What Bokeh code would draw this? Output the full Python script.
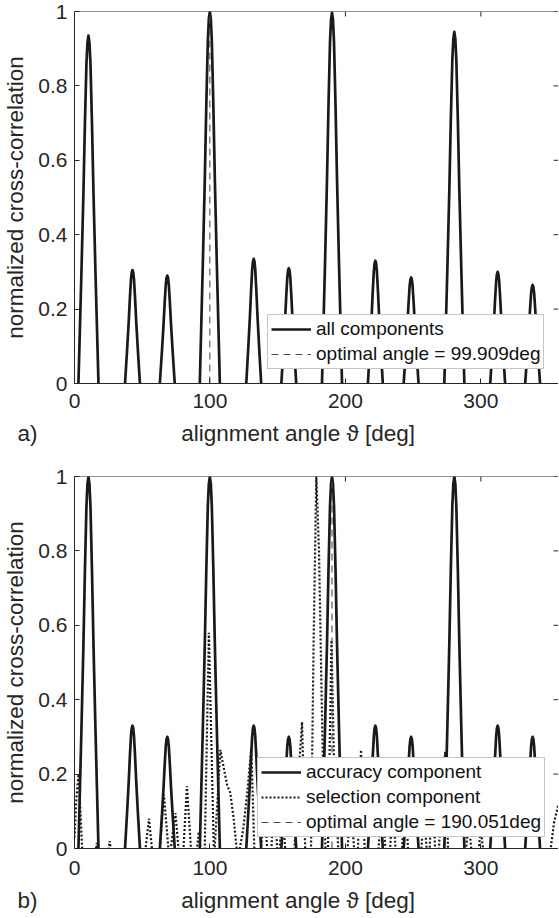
from bokeh.plotting import figure
from bokeh.models import (Range1d, FixedTicker, NumeralTickFormatter,
                          Legend, LegendItem, Title, Span)
from bokeh.layouts import column
from bokeh.embed import file_html
from bokeh.resources import INLINE

# ---------------- data ----------------
peak_theta = [10.3, 42.8, 68.5, 99.9, 132.3, 158.2, 190.1, 222.1, 248.5, 280.4, 312.4, 338.2]
all_peak_value = [0.935, 0.305, 0.29, 1.0, 0.335, 0.31, 0.997, 0.33, 0.285, 0.945, 0.30, 0.265]
acc_peak_value = [1.0, 0.33, 0.30, 1.0, 0.33, 0.30, 1.0, 0.33, 0.30, 1.0, 0.33, 0.30]
peak_halfwidth = [7.4, 5.5, 5.5, 7.4, 5.5, 5.5, 7.4, 5.5, 5.5, 7.4, 5.5, 5.5]
# shape of one correlation lobe: offset (fraction of half width) -> level (fraction of peak)
lobe_offset = [0.0, 0.1, 0.2, 0.35, 0.5, 0.7, 0.85, 1.0, 1.3]
lobe_level = [1.0, 0.98, 0.92, 0.75, 0.55, 0.32, 0.16, 0.0, -0.3]

sel_theta = [0, 1.5, 3.0, 4.5, 6.0,
             14.5, 16.5, 18.5,
             24, 26, 28,
             51.5, 55, 58,
             62.5, 66, 70, 74.5, 77.5,
             80, 83, 86.5,
             89.5, 91.8, 94,
             96, 99.2, 103, 107.7, 110, 112.7, 115, 117.5, 120.5, 124.5, 127.5, 130.5, 133,
             137, 140, 143,
             145, 147.5, 150,
             151, 153.5, 156,
             162, 165, 168, 170.5,
             174.5, 176.5, 178.5, 180.5, 183, 185.5,
             187, 189.7, 191.5, 193.5, 195,
             201, 204, 207,
             209, 211.5, 214.5,
             224, 227, 230,
             232.5, 235, 237.5,
             241.5, 244, 246.5,
             255.5, 258, 260.5,
             262, 264, 266.5,
             268.5, 271, 273.6, 276,
             288.5, 291, 293.5,
             297.5, 300, 302.5,
             350.5, 354, 357.3]
sel_value = [0.03, 0.14, 0.20, 0.09, -0.03,
             -0.03, 0.015, -0.03,
             -0.03, 0.02, -0.03,
             -0.03, 0.08, -0.03,
             -0.03, 0.145, -0.03, 0.095, -0.03,
             -0.03, 0.168, -0.03,
             -0.03, 0.045, -0.03,
             -0.03, 0.58, -0.03, 0.265, 0.22, 0.17, 0.15, 0.08, -0.03, 0.05, 0.15, 0.27, -0.03,
             -0.03, 0.10, -0.03,
             -0.03, 0.15, -0.03,
             -0.03, 0.12, -0.03,
             -0.03, 0.18, 0.34, -0.03,
             -0.03, 0.55, 1.0, 0.8, 0.3, -0.03,
             -0.03, 0.56, 0.24, 0.10, -0.03,
             -0.03, 0.12, -0.03,
             -0.03, 0.265, -0.03,
             -0.03, 0.15, -0.03,
             -0.03, 0.12, -0.03,
             -0.03, 0.18, -0.03,
             -0.03, 0.10, -0.03,
             -0.03, 0.20, -0.03,
             -0.03, 0.12, 0.26, -0.03,
             -0.03, 0.08, -0.03,
             -0.03, 0.05, -0.03,
             -0.03, 0.07, 0.12]

optimal_a = 99.909
optimal_b = 190.051
x_ticks = [0, 100, 200, 300]
y_ticks = [0, 0.2, 0.4, 0.6, 0.8, 1]
x_label = "alignment angle \u03d1 [deg]"
y_label = "normalized cross-correlation"
panel_tags = ["a)", "b)"]

# ---------------- styling / geometry ----------------
FONT = "Liberation Sans"
TXT = "#262626"
LINE = "#1a1a1a"
X_END = 357.3
FRAME_W, FRAME_H = 484, 372
TICK = 5  # px


def lobes(centers, heights, halfwidths):
    xs, ys = [], []
    for c, h, w in zip(centers, heights, halfwidths):
        for f, g in zip(reversed(lobe_offset), reversed(lobe_level)):
            xs.append(c - f * w)
            ys.append(h * g)
        for f, g in zip(lobe_offset[1:], lobe_level[1:]):
            xs.append(c + f * w)
            ys.append(h * g)
    return xs, ys


def panel(tag, border_top, border_bottom, tick_standoff, title_standoff):
    p = figure(frame_width=FRAME_W, frame_height=FRAME_H,
               x_range=Range1d(x_ticks[0], X_END), y_range=Range1d(y_ticks[0], y_ticks[-1]),
               output_backend="svg", toolbar_location=None,
               min_border_left=74, min_border_right=0,
               min_border_top=border_top, min_border_bottom=border_bottom)
    p.xgrid.visible = False
    p.ygrid.visible = False
    p.outline_line_color = None
    p.background_fill_color = "white"
    p.border_fill_color = "white"

    xa = p.xaxis[0]
    xa.ticker = FixedTicker(ticks=x_ticks)
    ya = p.yaxis[0]
    ya.ticker = FixedTicker(ticks=y_ticks)
    ya.formatter = NumeralTickFormatter(format="0.[0]")
    ya.axis_label = y_label
    ya.axis_label_text_font = FONT
    ya.axis_label_text_font_size = "22.5px"
    ya.axis_label_text_font_style = "normal"
    ya.axis_label_text_color = TXT
    ya.axis_label_standoff = 7
    xa.major_label_standoff = tick_standoff
    ya.major_label_standoff = 7
    for ax in (xa, ya):
        ax.major_tick_in = TICK
        ax.major_tick_out = 0
        ax.minor_tick_line_color = None
        ax.major_tick_line_color = TXT
        ax.axis_line_color = TXT
        ax.major_label_text_font = FONT
        ax.major_label_text_color = TXT
        ax.major_label_text_font_size = "21px"

    # box top edge and mirrored ticks on top / right (derived from tick lists)
    p.add_layout(Span(location=y_ticks[-1], dimension="width", line_color=TXT, line_width=1))
    dy = TICK * (y_ticks[-1] - y_ticks[0]) / FRAME_H
    dx = TICK * (X_END - x_ticks[0]) / FRAME_W
    p.segment(x0=x_ticks, y0=[y_ticks[-1]] * len(x_ticks),
              x1=x_ticks, y1=[y_ticks[-1] - dy] * len(x_ticks), line_color=TXT, line_width=1)
    p.segment(x0=[X_END - dx] * len(y_ticks), y0=y_ticks,
              x1=[X_END] * len(y_ticks), y1=y_ticks, line_color=TXT, line_width=1)

    # "a)   alignment angle" row (one title row under the axis)
    gap = "\u00a0" * 23
    p.add_layout(Title(text=tag + gap + x_label, align="left", offset=-57,
                       standoff=title_standoff, text_font=FONT, text_font_size="22.5px",
                       text_font_style="normal", text_color=TXT), "below")
    return p


def legend(p, items, loc):
    lg = Legend(items=items, location=loc, orientation="vertical",
                label_text_font=FONT, label_text_font_size="19px", label_text_color="#111111",
                glyph_width=40, glyph_height=20, label_height=20, label_standoff=5,
                padding=3, spacing=3, margin=0,
                border_line_color="#8c8c8c", border_line_width=1,
                background_fill_color="white", background_fill_alpha=1.0)
    p.add_layout(lg)


# ---------------- panel a ----------------
pa = panel(panel_tags[0], 11, 63, 10, 17)
xa_, ya_ = lobes(peak_theta, all_peak_value, peak_halfwidth)
r_all = pa.line(xa_, ya_, line_color=LINE, line_width=2.7, line_join="round")
r_opt_a = pa.line([optimal_a, optimal_a], [y_ticks[0], y_ticks[-1]], line_color="#4d4d4d",
                  line_width=1.1, line_dash="7 5")
legend(pa, [LegendItem(label="all components", renderers=[r_all]),
            LegendItem(label="optimal angle = %.3fdeg" % optimal_a, renderers=[r_opt_a])],
       (193, 14))

# ---------------- panel b ----------------
pb = panel(panel_tags[1], 22, 70, 12, 16)
xb_, yb_ = lobes(peak_theta, acc_peak_value, peak_halfwidth)
r_acc = pb.line(xb_, yb_, line_color=LINE, line_width=2.7, line_join="round")
r_sel = pb.line(sel_theta, sel_value, line_color="#1a1a1a", line_width=2.2, line_dash="2 2")
r_opt_b = pb.line([optimal_b, optimal_b], [y_ticks[0], y_ticks[-1]], line_color="#4d4d4d",
                  line_width=1.1, line_dash="7 5")
legend(pb, [LegendItem(label="accuracy component", renderers=[r_acc]),
            LegendItem(label="selection component", renderers=[r_sel]),
            LegendItem(label="optimal angle = %.3fdeg" % optimal_b, renderers=[r_opt_b])],
       (183, 11))

layout = column(pa, pb, spacing=0)
open("out.html", "w").write(file_html(layout, INLINE))
